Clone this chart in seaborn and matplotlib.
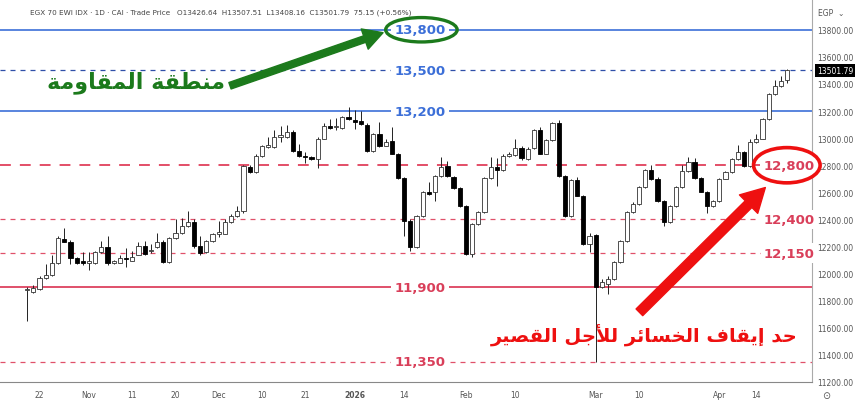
import numpy as np
import pandas as pd
import seaborn as sns
import matplotlib.pyplot as plt
from matplotlib.patches import Ellipse

# daily candles, EGX 70 EWI
opens = [11880, 11866, 11889, 11970, 11992, 12080, 12258, 12236, 12117, 12085,
         12080, 12080, 12162, 12199, 12080, 12080, 12115, 12095, 12140, 12206,
         12165, 12199, 12236, 12088, 12265, 12302, 12354, 12383, 12206, 12162,
         12243, 12295, 12295, 12383, 12427, 12464, 12789, 12752, 12870, 12937,
         12937, 13010, 13010, 13047, 12907, 12865, 12855, 12848, 12996, 13092,
         13080, 13077, 13158, 13136, 13128, 13099, 12907, 13032, 12944, 12980,
         12885, 12708, 12390, 12199, 12427, 12604, 12604, 12723, 12796, 12715,
         12634, 12501, 12147, 12368, 12457, 12708, 12789, 12767, 12870, 12877,
         12929, 12848, 12929, 13062, 12885, 12988, 13114, 12723, 12427, 12693,
         12575, 12221, 12288, 11903, 11925, 11962, 12088, 12243, 12457, 12516,
         12641, 12767, 12700, 12538, 12383, 12501, 12641, 12759, 12826, 12708,
         12604, 12501, 12538, 12700, 12752, 12848, 12900, 12796, 12973, 12996,
         13143, 13328, 13387, 13426.64]
closes = [11890, 11896, 11970, 11992, 12080, 12265, 12236, 12117, 12080, 12080,
          12085, 12162, 12199, 12080, 12085, 12117, 12105, 12125, 12206, 12147,
          12175, 12236, 12088, 12265, 12302, 12354, 12383, 12206, 12154, 12243,
          12295, 12300, 12383, 12427, 12464, 12796, 12752, 12870, 12944, 12940,
          13010, 13012, 13047, 12907, 12870, 12860, 12848, 12996, 13092, 13077,
          13085, 13158, 13143, 13121, 13106, 12907, 13032, 12944, 12973, 12885,
          12708, 12390, 12199, 12427, 12604, 12590, 12723, 12789, 12723, 12634,
          12501, 12147, 12368, 12457, 12708, 12789, 12767, 12870, 12875, 12929,
          12855, 12922, 13062, 12885, 12988, 13114, 12723, 12427, 12693, 12575,
          12221, 12280, 11903, 11940, 11962, 12088, 12243, 12457, 12516, 12641,
          12767, 12700, 12538, 12383, 12501, 12641, 12759, 12826, 12708, 12604,
          12501, 12538, 12700, 12752, 12848, 12900, 12796, 12973, 12996, 13143,
          13328, 13387, 13424, 13501.79]
highs = [11900, 11918, 11985, 12073, 12140, 12280, 12340, 12250, 12125, 12160,
         12160, 12165, 12243, 12280, 12100, 12140, 12190, 12170, 12230, 12240,
         12220, 12300, 12250, 12270, 12400, 12410, 12460, 12400, 12280, 12250,
         12300, 12390, 12400, 12440, 12500, 12800, 12800, 12880, 12950, 13010,
         13060, 13092, 13100, 13060, 12960, 12900, 12870, 13010, 13110, 13140,
         13150, 13165, 13232, 13210, 13200, 13110, 13040, 13121, 12990, 13084,
         12890, 12715, 12400, 12435, 12610, 12678, 12730, 12863, 12830, 12720,
         12640, 12505, 12375, 12465, 12715, 12863, 12850, 12880, 12900, 12990,
         12940, 12935, 13070, 13080, 12995, 13120, 13136, 12730, 12700, 12710,
         12580, 12300, 12295, 11960, 11980, 12095, 12250, 12465, 12530, 12650,
         12775, 12800, 12710, 12545, 12510, 12650, 12800, 12860, 12850, 12715,
         12610, 12545, 12705, 12760, 12855, 12950, 12905, 12995, 13030, 13150,
         13335, 13430, 13460, 13507.51]
lows = [11650, 11855, 11880, 11962, 11985, 12073, 12230, 12073, 12070, 12060,
        12030, 12070, 12155, 12060, 12070, 12075, 12050, 12090, 12135, 12140,
        12150, 12190, 12080, 12080, 12258, 12295, 12345, 12190, 12140, 12150,
        12235, 12270, 12290, 12375, 12420, 12450, 12740, 12745, 12860, 12925,
        12930, 12975, 13000, 12900, 12860, 12820, 12840, 12780, 12990, 13070,
        13060, 13070, 13135, 13070, 13100, 12900, 12900, 12935, 12940, 12880,
        12700, 12280, 12170, 12190, 12420, 12580, 12538, 12715, 12715, 12625,
        12495, 12140, 12120, 12360, 12450, 12700, 12650, 12760, 12860, 12870,
        12840, 12840, 12920, 12880, 12880, 12980, 12715, 12420, 12420, 12570,
        12210, 12160, 11350, 11895, 11850, 11955, 12080, 12236, 12450, 12510,
        12635, 12690, 12530, 12350, 12375, 12495, 12635, 12750, 12700, 12600,
        12450, 12490, 12530, 12695, 12745, 12840, 12790, 12790, 12965, 12990,
        13135, 13320, 13380, 13408.16]

tick_pos = [2, 10, 17, 24, 31, 38, 45, 53, 61, 71, 79, 92, 99, 112, 118]
tick_labels = ['22', 'Nov', '11', '20', 'Dec', '10', '21', '2026', '14',
               'Feb', '10', 'Mar', '10', 'Apr', '14']

resistance = [13800, 13500, 13200]
supports = [12800, 12400, 12150, 11900, 11350]

BLUE = '#3c6fd8'
PINK = '#e0506a'
GREEN = '#1c7a1c'
RED = '#ee1010'

# tiny arabic shaper (matplotlib has no text shaping of its own)
AR = {
    'ا': ('\ufe8d', '\ufe8e', None, None), 'أ': ('\ufe83', '\ufe84', None, None),
    'إ': ('\ufe87', '\ufe88', None, None), 'ة': ('\ufe93', '\ufe94', None, None),
    'د': ('\ufea9', '\ufeaa', None, None), 'ر': ('\ufead', '\ufeae', None, None),
    'و': ('\ufeed', '\ufeee', None, None),
    'ج': ('\ufe9d', '\ufe9e', '\ufe9f', '\ufea0'), 'ح': ('\ufea1', '\ufea2', '\ufea3', '\ufea4'),
    'خ': ('\ufea5', '\ufea6', '\ufea7', '\ufea8'), 'س': ('\ufeb1', '\ufeb2', '\ufeb3', '\ufeb4'),
    'ص': ('\ufeb9', '\ufeba', '\ufebb', '\ufebc'), 'ط': ('\ufec1', '\ufec2', '\ufec3', '\ufec4'),
    'ف': ('\ufed1', '\ufed2', '\ufed3', '\ufed4'), 'ق': ('\ufed5', '\ufed6', '\ufed7', '\ufed8'),
    'ل': ('\ufedd', '\ufede', '\ufedf', '\ufee0'), 'م': ('\ufee1', '\ufee2', '\ufee3', '\ufee4'),
    'ن': ('\ufee5', '\ufee6', '\ufee7', '\ufee8'), 'ي': ('\ufef1', '\ufef2', '\ufef3', '\ufef4'),
    'ئ': ('\ufe89', '\ufe8a', '\ufe8b', '\ufe8c'),
}
LAM_ALEF = {'ا': ('\ufefb', '\ufefc'), 'أ': ('\ufef7', '\ufef8'), 'إ': ('\ufef9', '\ufefa')}


def shape(s):
    chars = []
    i = 0
    while i < len(s):
        if s[i] == 'ل' and i + 1 < len(s) and s[i + 1] in LAM_ALEF:
            chars.append(('LA', s[i + 1]))
            i += 2
        else:
            chars.append(s[i])
            i += 1

    def joins_next(c):
        return not isinstance(c, tuple) and c in AR and AR[c][2] is not None

    def joins(c):
        return isinstance(c, tuple) or c in AR

    out = []
    for k, c in enumerate(chars):
        prev = chars[k - 1] if k > 0 else None
        nxt = chars[k + 1] if k + 1 < len(chars) else None
        p = prev is not None and joins_next(prev) and joins(c)
        if isinstance(c, tuple):
            out.append(LAM_ALEF[c[1]][1 if p else 0])
            continue
        if c not in AR:
            out.append(c)
            continue
        n = nxt is not None and joins_next(c) and joins(nxt)
        f = AR[c]
        out.append(f[3] if (p and n) else f[1] if p else f[2] if n else f[0])
    return ''.join(reversed(out))


df = pd.DataFrame({'open': opens, 'high': highs, 'low': lows, 'close': closes})
df['x'] = np.arange(len(df))
df['up'] = df['close'] >= df['open']
df['body'] = (df['close'] - df['open']).abs().clip(lower=10)
df['base'] = df[['open', 'close']].min(axis=1)

sns.set_theme(style='white')
plt.rcParams['font.family'] = ['DejaVu Sans']

fig = plt.figure(figsize=(8.62, 4.06), dpi=100)
ax = fig.add_axes([0, 23 / 406, 812 / 862, 383 / 406])

ax.vlines(df['x'], df['low'], df['high'], color='#222222', lw=0.7, zorder=3)
up = df[df['up']]
dn = df[~df['up']]
ax.bar(up['x'], up['body'], bottom=up['base'], width=0.68, color='white',
       edgecolor='#333333', linewidth=0.6, zorder=4)
ax.bar(dn['x'], dn['body'], bottom=dn['base'], width=0.68, color='black',
       edgecolor='black', linewidth=0.6, zorder=4)

# levels
ax.axhline(resistance[0], color=BLUE, lw=1.2, zorder=1)
ax.axhline(resistance[1], color='#2f4fa8', lw=0.9, ls=(0, (4, 4)), zorder=1)
ax.axhline(resistance[2], color=BLUE, lw=1.2, zorder=1)
ax.axhline(supports[0], color='#e0405c', lw=1.3, ls=(0, (6, 5)), zorder=1)
ax.axhline(supports[1], color=PINK, lw=0.9, ls=(0, (4, 4)), zorder=1)
ax.axhline(supports[2], color=PINK, lw=0.9, ls=(0, (4, 4)), zorder=1)
ax.axhline(supports[3], color=PINK, lw=1.4, zorder=1)
ax.axhline(supports[4], color=PINK, lw=0.9, ls=(0, (4, 4)), zorder=1)

tr = ax.get_yaxis_transform()
box = dict(boxstyle='square,pad=0.25', fc='white', ec='none')
for v in resistance:
    ax.text(0.517, v, f'{v:,}', transform=tr, ha='center', va='center', color=BLUE,
            fontsize=9.5, fontweight='bold', bbox=box, zorder=5)
for v in supports[3:]:
    ax.text(0.517, v, f'{v:,}', transform=tr, ha='center', va='center', color='#d93f5a',
            fontsize=9.5, fontweight='bold', bbox=box, zorder=5)
for v in supports[:3]:
    ax.text(0.972, v, f'{v:,}', transform=tr, ha='center', va='center', color='#d93f5a',
            fontsize=9.5, fontweight='bold', bbox=box, zorder=5)

ax.add_patch(Ellipse((0.519, resistance[0]), 0.088, 180, transform=tr, fill=False,
                     ec=GREEN, lw=2.4, zorder=6))
ax.add_patch(Ellipse((0.969, supports[0]), 0.082, 260, transform=tr, fill=False,
                     ec=RED, lw=2.6, zorder=6, clip_on=False))

# arrows and arabic notes
ax.annotate('', xy=(0.475, 13785), xytext=(0.28, 13380), xycoords=tr, textcoords=tr,
            arrowprops=dict(arrowstyle='simple,head_width=1.1,head_length=1.0,tail_width=0.35',
                            color=GREEN, mutation_scale=14), zorder=6)
ax.annotate('', xy=(0.945, 12650), xytext=(0.785, 11700), xycoords=tr, textcoords=tr,
            arrowprops=dict(arrowstyle='simple,head_width=1.1,head_length=1.0,tail_width=0.4',
                            color=RED, mutation_scale=17), zorder=6)
ax.text(0.168, 13420, shape('منطقة المقاومة'), transform=tr, ha='center', va='center',
        color=GREEN, fontsize=16, fontweight='bold', zorder=6)
ax.text(0.982, 11550, shape('حد إيقاف الخسائر للأجل القصير'), transform=tr, ha='right',
        va='center', color=RED, fontsize=14, fontweight='bold', zorder=6)

# axes styling
ax.set_xlim(-4.4, 127.0)
ax.set_ylim(11200, 14027)
ax.yaxis.tick_right()
ax.set_yticks(np.arange(11200, 13801, 200))
ax.set_yticklabels([f'{v:.2f}' for v in np.arange(11200, 13801, 200)])
ax.set_xticks(tick_pos)
ax.set_xticklabels(tick_labels)
for lab in ax.get_xticklabels():
    if lab.get_text() == '2026':
        lab.set_fontweight('bold')
ax.tick_params(axis='both', length=0, labelsize=5.5, labelcolor='#555555')
ax.tick_params(axis='x', pad=6)
ax.tick_params(axis='y', pad=4)
ax.grid(False)
for s in ['left', 'top']:
    ax.spines[s].set_visible(False)
ax.spines['right'].set_color('#aaaaaa')
ax.spines['bottom'].set_color('#888888')
ax.spines['right'].set_linewidth(0.8)
ax.spines['bottom'].set_linewidth(0.8)

ax.text(1.006, closes[-1], f'{closes[-1]:.2f}', transform=tr, ha='left', va='center',
        fontsize=5.5, color='white', bbox=dict(boxstyle='square,pad=0.25', fc='black', ec='none'))

fig.text(30 / 862, 1 - 13 / 406, 'EGX 70 EWI IDX · 1D · CAI · Trade Price   O13426.64  H13507.51  '
         'L13408.16  C13501.79  75.15 (+0.56%)', fontsize=5.2, color='#444444', va='center')
fig.text(818 / 862, 1 - 13 / 406, 'EGP  ⌄', fontsize=5.5, color='#555555', va='center')
fig.text(826 / 862, 1 - 396 / 406, '⊙', fontsize=7, color='#555555', ha='center', va='center')

fig.savefig('out.png', dpi=100)
